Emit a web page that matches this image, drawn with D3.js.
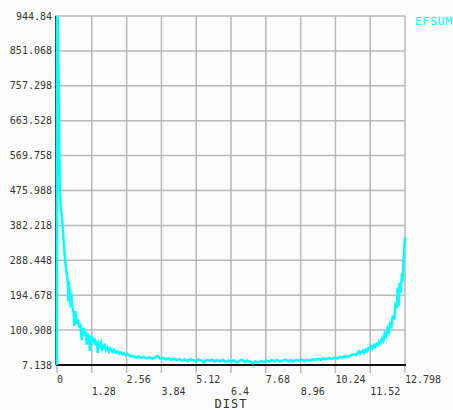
<!DOCTYPE html>
<html>
<head>
<meta charset="utf-8">
<script src="https://cdn.jsdelivr.net/npm/d3@7"></script>
<style>
  body { margin: 0; background: #fff; }
  svg { display: block; }
</style>
</head>
<body>
<script>
// Tick labels, as printed on the plot
var xTickLabels = ["0", "1.28", "2.56", "3.84", "5.12", "6.4", "7.68", "8.96", "10.24", "11.52", "12.798"];
var yTickLabels = ["7.138", "100.908", "194.678", "288.448", "382.218", "475.988",
                   "569.758", "663.528", "757.298", "851.068", "944.84"];

// EFSUM along the path
var dist = [
  0, 0.01, 0.03, 0.05, 0.07, 0.09, 0.11, 0.13, 0.16, 0.19, 0.22, 0.25, 0.28, 0.31, 0.34, 0.37,
  0.40, 0.42, 0.44, 0.46, 0.48, 0.50, 0.52, 0.55, 0.58,
  0.61, 0.64, 0.67, 0.70, 0.73, 0.76, 0.79, 0.82, 0.85, 0.88, 0.91, 0.94, 0.97, 1.00, 1.03, 1.06,
  1.09, 1.12, 1.15, 1.18, 1.21, 1.24, 1.27, 1.30, 1.34, 1.38, 1.42, 1.46, 1.50, 1.54, 1.58, 1.62,
  1.66, 1.70, 1.75, 1.80, 1.85, 1.90, 1.95, 2.00, 2.05, 2.10, 2.16, 2.22, 2.28, 2.34, 2.40, 2.46,
  2.52, 2.58, 2.64, 2.70,
  2.8, 2.9, 3.0, 3.1, 3.2, 3.3, 3.4, 3.5, 3.6, 3.7, 3.8, 3.9, 4.0, 4.1, 4.2, 4.3, 4.4, 4.5, 4.6,
  4.7, 4.8, 4.9, 5.0, 5.1, 5.2, 5.3, 5.4, 5.5, 5.6, 5.7, 5.8, 5.9, 6.0, 6.1, 6.2, 6.3, 6.4, 6.5,
  6.6, 6.7, 6.8, 6.9, 7.0, 7.1, 7.2, 7.3, 7.4, 7.5, 7.6, 7.7, 7.8, 7.9, 8.0, 8.1, 8.2, 8.3, 8.4,
  8.5, 8.6, 8.7, 8.8, 8.9, 9.0, 9.1, 9.2, 9.3, 9.4, 9.5, 9.6, 9.7, 9.8, 9.9, 10.0, 10.1, 10.2,
  10.3, 10.4, 10.5,
  10.6, 10.7, 10.8, 10.9, 11.0, 11.05, 11.1, 11.15, 11.2, 11.25, 11.3, 11.35, 11.4, 11.45, 11.5,
  11.55, 11.6, 11.65, 11.7, 11.75, 11.8, 11.85, 11.9, 11.95, 12.0, 12.05, 12.1, 12.15, 12.2,
  12.25, 12.3, 12.35, 12.4, 12.45, 12.5, 12.53, 12.56, 12.6, 12.64, 12.68, 12.72, 12.75, 12.77,
  12.798
];
var efsum = [
  7.1, 944.8, 930, 815, 700, 560, 470, 435, 420, 395, 365, 335, 305, 280, 262, 243,
  228, 178, 232, 196, 210, 162, 200, 172, 158,
  148, 112, 152, 138, 118, 130, 122, 108, 118, 100, 74, 106, 96, 100, 84, 96,
  62, 92, 82, 88, 45, 84, 76, 80, 70, 74, 60, 72, 40, 64, 58, 66,
  50, 56, 60, 48, 54, 44, 52, 46, 42, 48, 40, 44, 38, 41, 36, 39,
  33, 37, 34, 30,
  31, 27, 30, 26, 29, 25, 28, 24, 27, 31, 24, 26, 22, 25, 21, 24, 20, 23, 19,
  22, 18, 23, 20, 17, 22, 19, 14, 21, 18, 22, 16, 20, 17, 21, 15, 19, 16, 20,
  14, 18, 21, 15, 19, 16, 12, 17, 14, 18, 15, 19, 16, 20, 17, 21, 16, 19, 22,
  17, 20, 16, 21, 18, 22, 17, 21, 19, 23, 20, 24, 21, 25, 22, 26, 23, 27,
  25, 29, 27,
  31, 29, 33, 36, 34, 39, 44, 38, 42, 46, 40, 48, 44, 52, 49,
  57, 52, 61, 56, 64, 60, 70, 66, 78, 72, 92, 84, 105, 96,
  118, 112, 140, 128, 175, 160, 215, 165, 228, 200, 245, 240, 300, 320,
  351
];

var W = 453, H = 410;
var padL = 57, padR = 405, padT = 16, padB = 365;
var mono = "'DejaVu Sans Mono', monospace";

var x = d3.scaleLinear().domain([0, 12.798]).range([padL, padR]);
var y = d3.scaleLinear().domain([7.138, 944.84]).range([padB, padT]);

var svg = d3.select("body")
            .append("svg")
            .attr("width", W)
            .attr("height", H);

svg.append("rect")
   .attr("width", W)
   .attr("height", H)
   .attr("fill", "#fdfdfd");

var xVals = xTickLabels.map(Number);
var yVals = yTickLabels.map(Number);

// grid (vertical lines drop a little below the axis as ticks)
svg.selectAll("line.vgrid")
   .data(xVals)
   .enter()
   .append("line")
   .attr("class", "vgrid")
   .attr("x1", function (d) { return x(d); })
   .attr("x2", function (d) { return x(d); })
   .attr("y1", padT)
   .attr("y2", padB + 8)
   .attr("stroke", "#b8b8b8")
   .attr("stroke-width", 1.5);

svg.selectAll("line.hgrid")
   .data(yVals)
   .enter()
   .append("line")
   .attr("class", "hgrid")
   .attr("x1", padL - 2)
   .attr("x2", padR)
   .attr("y1", function (d) { return y(d); })
   .attr("y2", function (d) { return y(d); })
   .attr("stroke", "#b8b8b8")
   .attr("stroke-width", 1.5);

// axes
svg.append("line")
   .attr("x1", padL - 1).attr("x2", padL - 1)
   .attr("y1", padT).attr("y2", padB)
   .attr("stroke", "#111")
   .attr("stroke-width", 1.5);

svg.append("line")
   .attr("x1", padL - 1).attr("x2", padR + 1)
   .attr("y1", padB).attr("y2", padB)
   .attr("stroke", "#111")
   .attr("stroke-width", 2);

// y labels
svg.selectAll("text.ylab")
   .data(yTickLabels)
   .enter()
   .append("text")
   .attr("class", "ylab")
   .text(function (d) { return d; })
   .attr("x", 52)
   .attr("y", function (d) { return y(+d) + 3.5; })
   .attr("text-anchor", "end")
   .attr("font-family", mono)
   .attr("font-size", "10px")
   .attr("fill", "#333");

// x labels, staggered on two rows
svg.selectAll("text.xlab")
   .data(xTickLabels)
   .enter()
   .append("text")
   .attr("class", "xlab")
   .text(function (d) { return d; })
   .attr("x", function (d) { return x(+d); })
   .attr("y", function (d, i) { return i % 2 === 0 ? 383 : 395; })
   .attr("font-family", mono)
   .attr("font-size", "10px")
   .attr("fill", "#333");

svg.append("text")
   .text("DIST")
   .attr("x", (padL + padR) / 2)
   .attr("y", 408)
   .attr("text-anchor", "middle")
   .attr("font-family", mono)
   .attr("font-size", "12px")
   .attr("letter-spacing", "1px")
   .attr("fill", "#333");

// curve
var line = d3.line()
  .x(function (d, i) { return x(dist[i]); })
  .y(function (d) { return y(d); });

svg.append("path")
   .datum(efsum)
   .attr("d", line)
   .attr("fill", "none")
   .attr("stroke", "#00ffff")
   .attr("stroke-width", 2.5)
   .attr("stroke-linejoin", "miter");

svg.append("text")
   .text("EFSUM")
   .attr("x", 415)
   .attr("y", 25)
   .attr("font-family", mono)
   .attr("font-size", "11px")
   .attr("letter-spacing", "1px")
   .attr("fill", "#00ffff");
</script>
</body>
</html>
